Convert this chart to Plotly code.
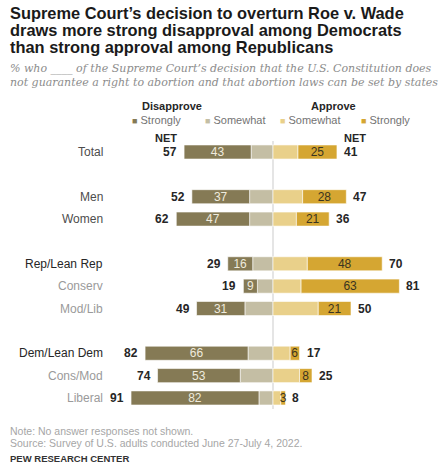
import plotly.graph_objects as go

categories = ["Total", " ", "Men", "Women", "  ", "Rep/Lean Rep", "Conserv", "Mod/Lib",
              "   ", "Dem/Lean Dem", "Cons/Mod", "Liberal"]
groups = ["Total", "Men", "Women", "Rep/Lean Rep", "Conserv", "Mod/Lib",
          "Dem/Lean Dem", "Cons/Mod", "Liberal"]
strongly_disapprove = [43, 37, 47, 16, 9, 31, 66, 53, 82]
somewhat_disapprove = [14, 15, 15, 13, 10, 18, 16, 21, 9]
somewhat_approve = [16, 19, 15, 22, 18, 29, 11, 17, 5]
strongly_approve = [25, 28, 21, 48, 63, 21, 6, 8, 3]
net_disapprove = [57, 52, 62, 29, 19, 49, 82, 74, 91]
net_approve = [41, 47, 36, 70, 81, 50, 17, 25, 8]
label_colors = ["#4d4d4d", "#4d4d4d", "#4d4d4d", "#262626", "#9a9a9a", "#9a9a9a",
                "#262626", "#9a9a9a", "#9a9a9a"]

C_SD = "#857A55"
C_MD = "#C4BEA4"
C_MA = "#E9D08A"
C_SA = "#D5A632"

W, H = 442, 474
CENTER_PX = 273
SCALE = 1.56
ROW0 = 152
ROWH = 22.36

def py(p):
    return 1 - p / H

BAR_W = 0.63
FONT = "Liberation Sans, Arial, sans-serif"

fig = go.Figure()
fig.add_trace(go.Bar(y=groups, x=[-v for v in somewhat_disapprove], orientation="h",
                     marker=dict(color=C_MD, line=dict(color="white", width=0.6)),
                     width=BAR_W, hoverinfo="skip"))
fig.add_trace(go.Bar(y=groups, x=[-v for v in strongly_disapprove], orientation="h",
                     marker=dict(color=C_SD, line=dict(color="white", width=0.6)),
                     width=BAR_W, text=[str(v) for v in strongly_disapprove],
                     textposition="inside", insidetextanchor="middle", textangle=0,
                     textfont=dict(color="#efebde", size=12, family=FONT), hoverinfo="skip"))
fig.add_trace(go.Bar(y=groups, x=somewhat_approve, orientation="h",
                     marker=dict(color=C_MA, line=dict(color="white", width=0.6)),
                     width=BAR_W, hoverinfo="skip"))
fig.add_trace(go.Bar(y=groups, x=strongly_approve, orientation="h",
                     marker=dict(color=C_SA, line=dict(color="white", width=0.6)),
                     width=BAR_W, text=[str(v) for v in strongly_approve],
                     textposition="inside", insidetextanchor="middle", textangle=0,
                     textfont=dict(color="#3a3420", size=12, family=FONT), hoverinfo="skip"))

ann = []
for g, nd, na, col in zip(groups, net_disapprove, net_approve, label_colors):
    ann.append(dict(x=-nd, y=g, xref="x", yref="y", text=f"<b>{nd}</b>", showarrow=False,
                    xanchor="right", xshift=-5, font=dict(size=12, color="#262626", family=FONT)))
    ann.append(dict(x=na, y=g, xref="x", yref="y", text=f"<b>{na}</b>", showarrow=False,
                    xanchor="left", xshift=5, font=dict(size=12, color="#262626", family=FONT)))
    ann.append(dict(x=(105 - CENTER_PX) / SCALE, y=g, xref="x", yref="y", text=g,
                    showarrow=False, xanchor="right", font=dict(size=12, color=col, family=FONT)))

# NET headers
ann.append(dict(x=-net_disapprove[0], y=groups[0], xref="x", yref="y", text="<b>NET</b>",
                showarrow=False, xanchor="right", xshift=-5, yshift=14,
                font=dict(size=11, color="#262626", family=FONT)))
ann.append(dict(x=net_approve[0], y=groups[0], xref="x", yref="y", text="<b>NET</b>",
                showarrow=False, xanchor="left", xshift=5, yshift=14,
                font=dict(size=11, color="#262626", family=FONT)))

# Title
title_lines = ["Supreme Court\u2019s decision to overturn Roe v. Wade",
               "draws more strong disapproval among Democrats",
               "than strong approval among Republicans"]
for i, t in enumerate(title_lines):
    ann.append(dict(x=8 / W, y=py(13 + i * 17), xref="paper", yref="paper", text=f"<b>{t}</b>",
                    showarrow=False, xanchor="left", yanchor="middle",
                    font=dict(size=16.4, color="#1a1a1a", family=FONT)))
sub_lines = ["% who ____ of the Supreme Court\u2019s decision that the U.S. Constitution does",
             "not guarantee a right to abortion and that abortion laws can be set by states"]
for i, t in enumerate(sub_lines):
    ann.append(dict(x=8 / W, y=py(68 + i * 14), xref="paper", yref="paper", text=f"<i>{t}</i>",
                    showarrow=False, xanchor="left", yanchor="middle",
                    font=dict(size=11, color="#8c8c8c", family="DejaVu Serif, Georgia, serif")))

# Legend headers
ann.append(dict(x=172 / W, y=py(106), xref="paper", yref="paper", text="<b>Disapprove</b>",
                showarrow=False, xanchor="center", yanchor="middle",
                font=dict(size=11, color="#262626", family=FONT)))
ann.append(dict(x=333 / W, y=py(106), xref="paper", yref="paper", text="<b>Approve</b>",
                showarrow=False, xanchor="center", yanchor="middle",
                font=dict(size=11, color="#262626", family=FONT)))
legend_items = [(130, C_SD, "Strongly"), (203, C_MD, "Somewhat"),
                (278, C_MA, "Somewhat"), (359, C_SA, "Strongly")]
for xp, c, t in legend_items:
    ann.append(dict(x=xp / W, y=py(120), xref="paper", yref="paper",
                    text=f"<span style='color:{c};font-size:9px'>\u25a0</span> {t}",
                    showarrow=False, xanchor="left", yanchor="middle",
                    font=dict(size=11, color="#737373", family=FONT)))

# Footer
ann.append(dict(x=8 / W, y=py(431), xref="paper", yref="paper",
                text="Note: No answer responses not shown.", showarrow=False,
                xanchor="left", yanchor="middle", font=dict(size=10.5, color="#a6a6a6", family=FONT)))
ann.append(dict(x=8 / W, y=py(443), xref="paper", yref="paper",
                text="Source: Survey of U.S. adults conducted June 27-July 4, 2022.", showarrow=False,
                xanchor="left", yanchor="middle", font=dict(size=10.5, color="#a6a6a6", family=FONT)))
ann.append(dict(x=8 / W, y=py(458), xref="paper", yref="paper",
                text="<b>PEW RESEARCH CENTER</b>", showarrow=False,
                xanchor="left", yanchor="middle", font=dict(size=9.5, color="#333333", family=FONT)))

xmin = -CENTER_PX / SCALE
xmax = (W - CENTER_PX) / SCALE
ytop = -ROW0 / ROWH
ybot = (H - ROW0) / ROWH

fig.update_layout(
    width=W, height=H, barmode="relative", showlegend=False,
    margin=dict(l=0, r=0, t=0, b=0),
    paper_bgcolor="white", plot_bgcolor="white",
    xaxis=dict(range=[xmin, xmax], visible=False, fixedrange=True),
    yaxis=dict(type="category", categoryarray=categories, categoryorder="array",
               range=[ybot, ytop], visible=False, fixedrange=True),
    uniformtext=dict(minsize=12, mode="show"),
    annotations=ann,
    shapes=[dict(type="line", xref="x", yref="paper", x0=0, x1=0, y0=py(141), y1=py(409),
                 line=dict(color="#dcdcdc", width=1.5), layer="below")],
)

fig.write_html("out.html", config={"displayModeBar": False},
               post_script="document.body.style.margin='0';document.body.style.overflow='hidden';")
